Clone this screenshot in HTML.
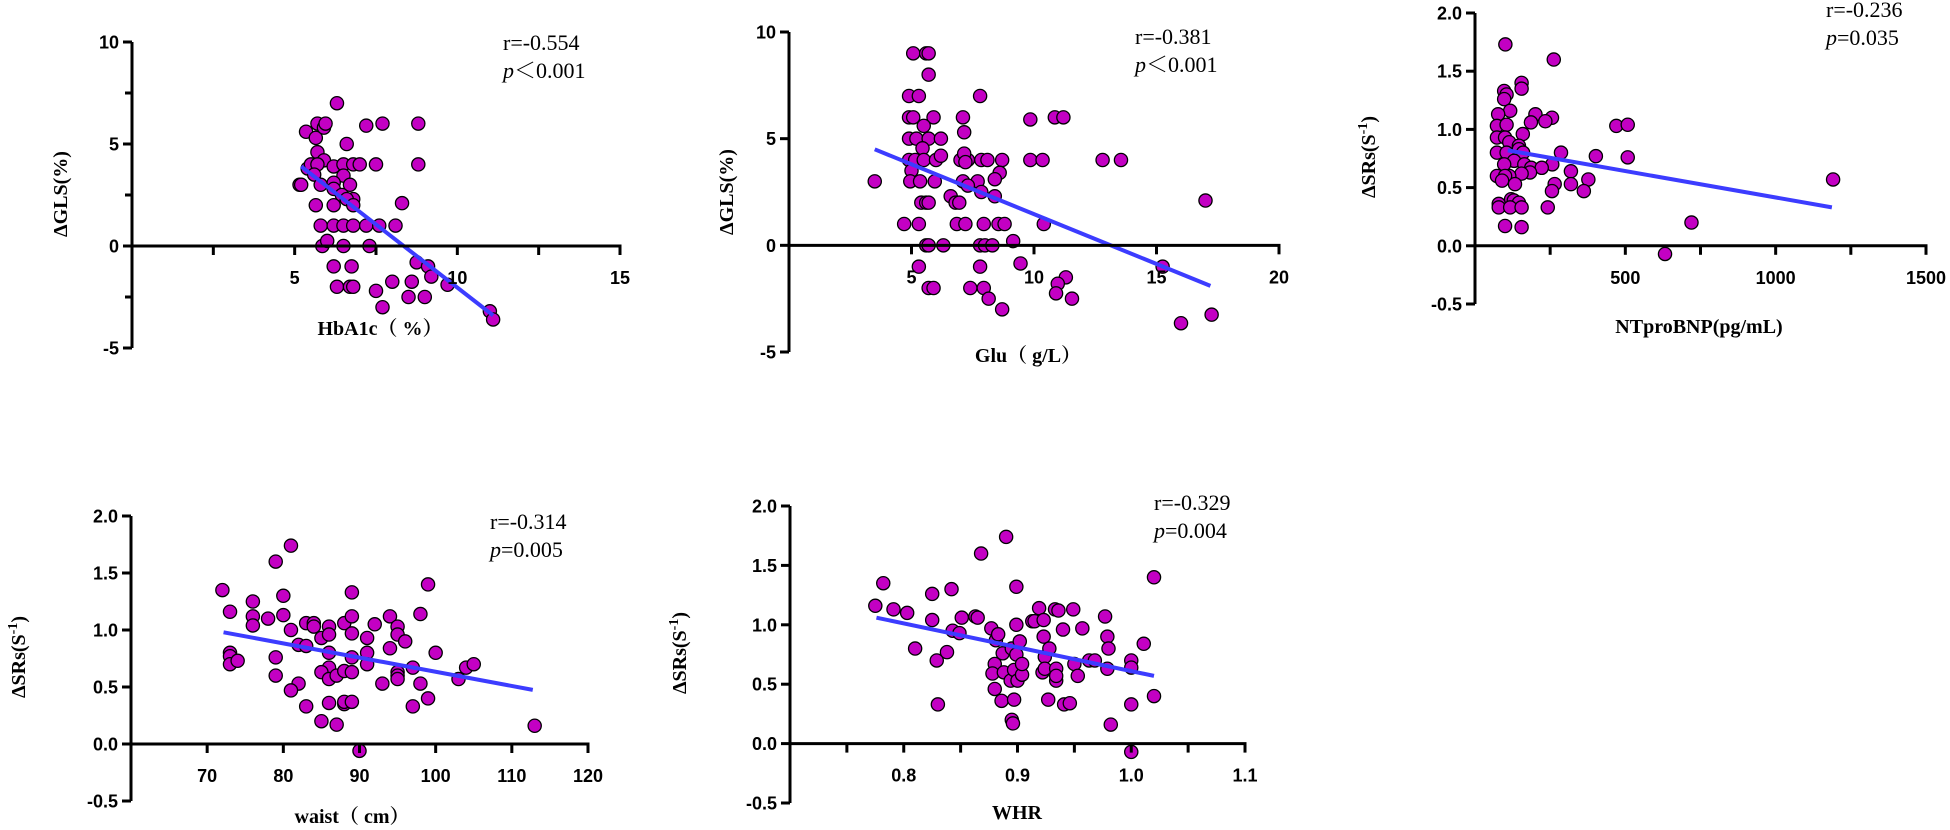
<!DOCTYPE html>
<html><head><meta charset="utf-8">
<style>
html,body{margin:0;padding:0;background:#fff;}
svg{display:block;}
.tk{font-family:"Liberation Sans",Arial,sans-serif;font-weight:bold;font-size:18px;fill:#000;}
.ti{font-family:"Liberation Serif","Noto Serif CJK SC",serif;font-weight:bold;font-size:20px;fill:#000;}
.an{font-family:"Liberation Serif","Noto Serif CJK SC",serif;font-size:22px;fill:#000;}
</style></head>
<body>
<svg id="fig" width="1950" height="830" viewBox="0 0 1950 830" xmlns="http://www.w3.org/2000/svg"></svg>
<script>
// Panel 1: HbA1c vs ΔGLS
const p1X=[6.3,5.35,5.65,5.7,5.9,5.95,7.2,7.7,8.8,6.6,5.7,5.9,5.4,5.5,5.7,6.2,6.5,6.8,7,7.5,8.8,5.6,6.5,5.15,5.2,5.8,6.2,6.7,6.2,6.45,6.8,6.6,6.8,5.65,6.2,8.3,5.8,6.2,6.5,6.8,7.2,7.6,8.1,5.85,6,6.5,7.3,6.2,6.75,8.75,9.1,9.2,6.3,6.7,6.8,8,8.6,9.7,7.5,8.5,9,7.7,11,11.1];
const p1Y=[7,5.6,5.3,6,5.8,6,5.9,6,6,5,4.6,4.2,3.8,4,4,3.9,4,4,4,4,4,3.5,3.45,3,3,3,3.1,3,2.8,2.5,2.3,2.3,2,2,2,2.1,1,1,1,1,1,1,1,0,0.25,0,0,-1,-1,-0.8,-1,-1.5,-2,-2,-2,-1.75,-1.75,-1.9,-2.2,-2.5,-2.5,-3,-3.2,-3.6];
const p1Fit=[5.2,3.9,11.1,-3.4];
const p1XTicks=["5","10","15"];
const p1YTicks=["10","5","0","-5"];
// Panel 2: Glu vs ΔGLS
const p2X=[3.5,5.07,5.6,5.7,5.7,4.9,5.3,7.8,4.9,5.07,5.9,7.1,9.85,10.85,11.2,5.5,4.9,5.2,5.7,6.2,7.15,5.45,4.9,5.15,5.5,6,7,7.3,7.85,8.1,8.7,9.85,10.35,12.8,13.55,6.2,7.15,7.2,5,8.6,4.95,5.35,5.95,7.1,7.7,8.4,7.3,7.85,6.6,8.4,5.4,5.6,5.7,6.8,6.95,17,4.7,5.3,6.85,7.2,7.95,8.55,8.8,10.4,5.6,5.7,6.3,7.8,8,8.3,9.15,5.3,7.8,9.45,15.25,5.7,5.9,7.4,7.95,11.3,10.97,10.9,8.15,11.55,8.7,16,17.25];
const p2Y=[3,9,9,9,8,7,7,7,6,6,6,6,5.9,6,6,5.6,5,5,5,5,5.3,4.55,4,4,4,4,4,4,4,4,4,4,4,4,4,4.2,4.3,3.9,3.5,3.4,3,3,3,3,3,3.1,2.8,2.5,2.3,2.3,2,2,2,2,2,2.1,1,1,1,1,1,1,1,1,0,0,0,0,0,0,0.2,-1,-1,-0.85,-1,-2,-2,-2,-2,-1.5,-1.8,-2.25,-2.5,-2.5,-3,-3.65,-3.25];
const p2Fit=[3.5,4.5,17.2,-1.9];
const p2XTicks=["5","10","15","20"];
const p2YTicks=["10","5","0","-5"];
// Panel 3: NTproBNP vs ΔSRs
const p3X=[101,262,155,155,97,105,97,117,77,201,256,234,186,73,105,470,508,159,73,100,114,146,146,73,105,160,286,402,508,130,97,164,257,187,222,319,183,155,114,73,100,90,377,1191,265,133,319,362,256,120,129,146,79,79,117,155,242,100,155,720,632];
const p3Y=[1.73,1.6,1.4,1.35,1.33,1.3,1.26,1.16,1.13,1.13,1.1,1.07,1.06,1.03,1.04,1.03,1.04,0.96,0.93,0.93,0.89,0.86,0.83,0.8,0.8,0.8,0.8,0.77,0.76,0.73,0.7,0.7,0.7,0.67,0.67,0.64,0.63,0.62,0.6,0.6,0.6,0.56,0.57,0.57,0.53,0.53,0.53,0.47,0.47,0.4,0.39,0.37,0.36,0.33,0.33,0.33,0.33,0.17,0.16,0.2,-0.07];
const p3Fit=[109,0.82,1187,0.33];
const p3XTicks=["500","1000","1500"];
const p3YTicks=["2.0","1.5","1.0","0.5","0.0","-0.5"];
// Panel 4: waist vs ΔSRs
const p4X=[72,73,73,73,73,74,76,76,76,78,79,81,80,80,81,79,79,82,83,82,81,83,83,84,84,85,86,86,86,86,85,86,87,86,85,87,88,89,89,89,89,88,89,88,88,89,90,91,91,91,92,93,94,94,95,95,95,95,95,96,97,97,98,98,99,99,100,103,104,105,113];
const p4Y=[1.35,1.16,0.8,0.77,0.7,0.73,1.25,1.12,1.04,1.1,1.6,1.74,1.3,1.13,1.0,0.76,0.6,0.87,0.86,0.53,0.47,0.33,1.06,1.06,1.03,0.93,1.03,0.96,0.8,0.67,0.63,0.57,0.6,0.36,0.2,0.17,1.06,1.33,1.12,0.97,0.76,0.64,0.63,0.35,0.37,0.37,-0.06,0.93,0.8,0.7,1.05,0.53,1.12,0.84,1.03,0.96,0.63,0.6,0.57,0.9,0.67,0.33,1.14,0.53,1.4,0.4,0.8,0.57,0.67,0.7,0.16];
const p4Fit=[72.15,0.98,112.75,0.475];
const p4XTicks=["70","80","90","100","110","120"];
const p4YTicks=["2.0","1.5","1.0","0.5","0.0","-0.5"];
// Panel 5: WHR vs ΔSRs
const p5X=[0.775,0.782,0.791,0.803,0.81,0.825,0.825,0.829,0.83,0.838,0.842,0.843,0.849,0.851,0.863,0.865,0.868,0.877,0.881,0.883,0.88,0.878,0.88,0.886,0.89,0.887,0.888,0.895,0.899,0.894,0.897,0.9,0.904,0.904,0.902,0.899,0.899,0.897,0.895,0.896,0.913,0.915,0.919,0.923,0.923,0.922,0.924,0.924,0.928,0.927,0.933,0.936,0.94,0.934,0.934,0.934,0.941,0.946,0.949,0.957,0.95,0.953,0.963,0.968,0.977,0.979,0.98,0.979,0.982,1.0,1.0,1.0,1.0,1.011,1.02,1.02];
const p5Y=[1.16,1.35,1.13,1.1,0.8,1.26,1.04,0.7,0.33,0.77,1.3,0.95,0.93,1.06,1.07,1.06,1.6,0.97,0.87,0.92,0.67,0.59,0.46,0.36,1.74,0.76,0.6,0.8,0.75,0.53,0.62,0.53,0.58,0.67,0.86,1.0,1.32,0.37,0.2,0.17,1.03,1.03,1.14,1.04,0.9,0.6,0.73,0.63,0.8,0.37,1.13,1.12,0.96,0.63,0.53,0.57,0.33,0.34,1.13,0.97,0.67,0.57,0.7,0.7,1.07,0.9,0.8,0.63,0.16,0.7,0.64,0.33,-0.07,0.84,1.4,0.4];
const p5Fit=[0.776,1.06,1.02,0.57];
const p5XTicks=["0.8","0.9","1.0","1.1"];
const p5YTicks=["2.0","1.5","1.0","0.5","0.0","-0.5"];

const NS="http://www.w3.org/2000/svg";
const svg=document.getElementById('fig');
function mk(tag,attrs,parent){const e=document.createElementNS(NS,tag);for(const k in attrs)e.setAttribute(k,attrs[k]);(parent||svg).appendChild(e);return e;}

function panel(c){
  const g=mk('g',{});
  
  
  const sx=v=>c.px0+(v-c.xmin)/(c.xmax-c.xmin)*(c.px1-c.px0);
  const sy=v=>c.py0+(c.ymax-v)/(c.ymax-c.ymin)*(c.py1-c.py0);
  for(let i=0;i<c.X.length;i++){
    const d=mk('circle',{cx:sx(c.X[i]),cy:sy(c.Y[i]),r:6.6,fill:'#c300c3',stroke:'#000','stroke-width':1.3},g);
    
    
  }
  const fl=mk('line',{x1:sx(c.fit[0]),y1:sy(c.fit[1]),x2:sx(c.fit[2]),y2:sy(c.fit[3]),stroke:'#3c3cff','stroke-width':4},g);
  
  
  const ya=mk('line',{x1:c.px0,y1:c.py0,x2:c.px0,y2:c.py1,stroke:'#000','stroke-width':3},g);
  
  
  const xa=mk('line',{x1:c.px0-1.5,y1:sy(0),x2:c.px1+1.5,y2:sy(0),stroke:'#000','stroke-width':3},g);
  
  
  for(let v=c.ymax;v>=c.ymin-1e-9;v-=c.yminor){
    const major=Math.abs((c.ymax-v)/c.ystep-Math.round((c.ymax-v)/c.ystep))<1e-6;
    mk('line',{x1:c.px0-(major?9:7),y1:sy(v),x2:c.px0,y2:sy(v),stroke:'#000','stroke-width':3},g);
  }
  c.yt.forEach((t,i)=>{
    const v=c.ymax-i*c.ystep;
    const tx=mk('text',{x:c.px0-13,y:sy(v)+6.5,'text-anchor':'end',class:'tk'},g);
    tx.textContent=t;
    
    
  });
  for(let v=c.xmin+c.xminor;v<=c.xmax+1e-9;v+=c.xminor){
    mk('line',{x1:sx(v),y1:sy(0),x2:sx(v),y2:sy(0)+9,stroke:'#000','stroke-width':3},g);
  }
  c.xt.forEach((t,i)=>{
    const v=c.xfirst+i*c.xstep;
    const tx=mk('text',{x:sx(v),y:sy(0)+38,'text-anchor':'middle',class:'tk'},g);
    tx.textContent=t;
    
    
  });
  const xt=mk('text',{x:c.xtx,y:c.xty,'text-anchor':'middle',class:'ti'},g);
  xt.textContent=c.xtitle;
  
  
  const yt=mk('text',{x:0,y:0,'text-anchor':'middle',class:'ti',transform:`translate(${c.ytx},${c.yty}) rotate(-90)`},g);
  if(c.sup){yt.textContent='ΔSRs(S';const s=mk('tspan',{dy:-8,'font-size':'14px'},yt);s.textContent='-1';const s2=mk('tspan',{dy:8},yt);s2.textContent=')';}
  else yt.textContent=c.ytitle;
  
  
  const a1=mk('text',{x:c.ax,y:c.ay,class:'an'},g);
  a1.textContent=c.r;
  
  
  const a2=mk('text',{x:c.ax,y:c.ay+28,class:'an'},g);
  const pi=mk('tspan',{'font-style':'italic'},a2);pi.textContent='p';
  const pr=mk('tspan',{},a2);pr.textContent=c.p;
  
  
}

panel({name:'hba1c-panel',X:p1X,Y:p1Y,fit:p1Fit,xt:p1XTicks,yt:p1YTicks,xmin:0,xmax:15,px0:132,px1:620,ymin:-5,ymax:10,py0:42,py1:348,ystep:5,yminor:2.5,xminor:2.5,xfirst:5,xstep:5,
  xtitle:'HbA1c（ %）',xtx:380,xty:335,ytitle:'ΔGLS(%)',ytx:67,yty:194,ax:503,ay:50,r:'r=-0.554',p:'＜0.001'});
panel({name:'glu-panel',X:p2X,Y:p2Y,fit:p2Fit,xt:p2XTicks,yt:p2YTicks,xmin:0,xmax:20,px0:789,px1:1279,ymin:-5,ymax:10,py0:32,py1:352,ystep:5,yminor:5,xminor:5,xfirst:5,xstep:5,
  xtitle:'Glu（ g/L）',xtx:1028,xty:362,ytitle:'ΔGLS(%)',ytx:733,yty:192,ax:1135,ay:44,r:'r=-0.381',p:'＜0.001'});
panel({name:'ntprobnp-panel',X:p3X,Y:p3Y,fit:p3Fit,xt:p3XTicks,yt:p3YTicks,xmin:0,xmax:1500,px0:1475,px1:1926,ymin:-0.5,ymax:2,py0:13,py1:304,ystep:0.5,yminor:0.5,xminor:250,xfirst:500,xstep:500,
  xtitle:'NTproBNP(pg/mL)',xtx:1699,xty:333,ytitle:'',sup:true,ytx:1375,yty:157,ax:1826,ay:17,r:'r=-0.236',p:'=0.035'});
panel({name:'waist-panel',X:p4X,Y:p4Y,fit:p4Fit,xt:p4XTicks,yt:p4YTicks,xmin:60,xmax:120,px0:131,px1:588,ymin:-0.5,ymax:2,py0:516,py1:801,ystep:0.5,yminor:0.5,xminor:10,xfirst:70,xstep:10,
  xtitle:'waist（ cm）',xtx:352,xty:823,ytitle:'',sup:true,ytx:25,yty:657,ax:490,ay:529,r:'r=-0.314',p:'=0.005'});
panel({name:'whr-panel',X:p5X,Y:p5Y,fit:p5Fit,xt:p5XTicks,yt:p5YTicks,xmin:0.7,xmax:1.1,px0:790,px1:1245,ymin:-0.5,ymax:2,py0:506,py1:803,ystep:0.5,yminor:0.5,xminor:0.05,xfirst:0.8,xstep:0.1,
  xtitle:'WHR',xtx:1017,xty:819,ytitle:'',sup:true,ytx:686,yty:653,ax:1154,ay:510,r:'r=-0.329',p:'=0.004'});
</script>
</body></html>
